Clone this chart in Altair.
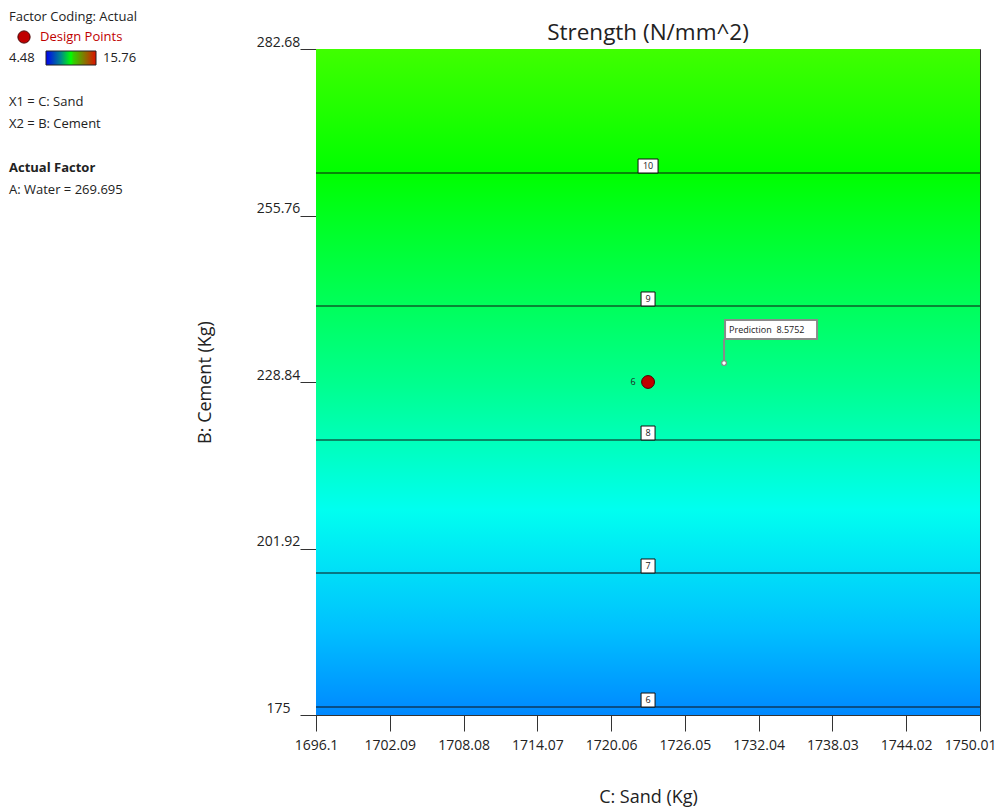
import altair as alt
import pandas as pd

# ---- data ----
sand_range = [1696.1, 1750.01]
cement_range = [175.0, 282.68]
x_ticks = [1696.1, 1702.09, 1708.08, 1714.07, 1720.06, 1726.05, 1732.04, 1738.03, 1744.02, 1750.01]
y_ticks = [175, 201.92, 228.84, 255.76, 282.68]
contour_levels = [6, 7, 8, 9, 10]
contour_cement = [176.29, 197.96, 219.46, 241.13, 262.63]
label_sand = 1723.06
design_sand = [1723.06]
design_cement = [228.84]
design_label = ["6"]
pred_sand = [1729.23]
pred_cement = [231.91]
pred_value = [8.5752]
color_min, color_max = 4.48, 15.76

FONT = "Open Sans"
TXT = "#222222"

xs = alt.Scale(domain=sand_range, nice=False, zero=False)
ys = alt.Scale(domain=cement_range, nice=False, zero=False)

bg_df = pd.DataFrame({"x": [sand_range[0]], "x2": [sand_range[1]],
                      "y": [cement_range[0]], "y2": [cement_range[1]]})
contour_df = pd.DataFrame({"level": contour_levels, "cement": contour_cement,
                           "x": [sand_range[0]] * 5, "x2": [sand_range[1]] * 5,
                           "lx": [label_sand] * 5})
design_df = pd.DataFrame({"sand": design_sand, "cement": design_cement, "label": design_label})
pred_df = pd.DataFrame({"sand": pred_sand, "cement": pred_cement,
                        "label": [f"Prediction\u00a0\u00a0{v}" for v in pred_value]})

surface_grad = alt.LinearGradient(
    gradient="linear", x1=0, y1=1, x2=0, y2=0,
    stops=[
        alt.GradientStop(offset=0.0, color="#0088ff"),
        alt.GradientStop(offset=0.128, color="#00c0ff"),
        alt.GradientStop(offset=0.308, color="#00fff0"),
        alt.GradientStop(offset=0.494, color="#00ff90"),
        alt.GradientStop(offset=0.713, color="#00ff30"),
        alt.GradientStop(offset=0.814, color="#00ff00"),
        alt.GradientStop(offset=1.0, color="#40ff00"),
    ])

last_x = f"datum.value == {sand_range[1]}"
x_axis = alt.Axis(values=x_ticks, labelExpr="datum.value", tickSize=16, labelPadding=7,
                  labelFlush=False, labelOverlap=False,
                  labelAlign={"condition": {"test": last_x, "value": "right"}, "value": "center"},
                  labelOffset={"condition": {"test": last_x, "value": 16}, "value": 0},
                  grid=False, title="C: Sand (Kg)", titleX=332, titleY=82,
                  titleBaseline="middle", titleFontSize=18, titleFontWeight="normal")
y_axis = alt.Axis(values=y_ticks, labelExpr="datum.value", tickSize=16, labelPadding=22,
                  labelFlush=False, labelOverlap=False,
                  labelAlign="center", labelBaseline="alphabetic", labelOffset=-3,
                  grid=False, title="B: Cement (Kg)", titleX=-111, titleY=333,
                  titleBaseline="middle", titleFontSize=18, titleFontWeight="normal")

background = alt.Chart(bg_df).mark_rect(color=surface_grad).encode(
    x=alt.X("x:Q", scale=xs, axis=x_axis), x2="x2:Q",
    y=alt.Y("y:Q", scale=ys, axis=y_axis), y2="y2:Q")

lines = alt.Chart(contour_df).mark_rule(color="#111111", strokeWidth=1.2).encode(
    x=alt.X("x:Q", scale=xs), x2="x2:Q", y=alt.Y("cement:Q", scale=ys))

box_narrow = alt.Chart(contour_df).transform_filter("datum.level < 10").mark_rect(
    fill="white", stroke="#111111", strokeWidth=1,
    xOffset=-7, x2Offset=7, yOffset=-14, y2Offset=0).encode(
    x=alt.X("lx:Q", scale=xs), x2="lx:Q", y=alt.Y("cement:Q", scale=ys), y2="cement:Q")
box_wide = alt.Chart(contour_df).transform_filter("datum.level >= 10").mark_rect(
    fill="white", stroke="#111111", strokeWidth=1,
    xOffset=-10, x2Offset=10, yOffset=-14, y2Offset=0).encode(
    x=alt.X("lx:Q", scale=xs), x2="lx:Q", y=alt.Y("cement:Q", scale=ys), y2="cement:Q")
box_text = alt.Chart(contour_df).mark_text(font=FONT, fontSize=9, color=TXT, dy=-7,
                                          baseline="middle").encode(
    x=alt.X("lx:Q", scale=xs), y=alt.Y("cement:Q", scale=ys), text="level:N")

design_pt = alt.Chart(design_df).mark_point(shape="circle", filled=True, size=165,
                                            fill="#c00000", stroke="#4a0000",
                                            strokeWidth=1, opacity=1).encode(
    x=alt.X("sand:Q", scale=xs), y=alt.Y("cement:Q", scale=ys))
design_txt = alt.Chart(design_df).mark_text(font=FONT, fontSize=9, color=TXT, dx=-15,
                                           baseline="middle").encode(
    x=alt.X("sand:Q", scale=xs), y=alt.Y("cement:Q", scale=ys), text="label:N")

pred_line = alt.Chart(pred_df).mark_rule(color="#8a8a8a", strokeWidth=2, y2Offset=-24).encode(
    x=alt.X("sand:Q", scale=xs), y=alt.Y("cement:Q", scale=ys), y2="cement:Q")
pred_pt = alt.Chart(pred_df).mark_point(shape="circle", size=22, filled=True, fill="white",
                                        stroke="#8a8a8a", strokeWidth=1.3, opacity=1).encode(
    x=alt.X("sand:Q", scale=xs), y=alt.Y("cement:Q", scale=ys))
pred_box = alt.Chart(pred_df).mark_rect(fill="white", stroke="#8a8a8a", strokeWidth=2,
                                        xOffset=1, x2Offset=93, yOffset=-43, y2Offset=-24).encode(
    x=alt.X("sand:Q", scale=xs), x2="sand:Q", y=alt.Y("cement:Q", scale=ys), y2="cement:Q")
pred_txt = alt.Chart(pred_df).mark_text(font=FONT, fontSize=9, color=TXT, align="left",
                                        baseline="middle", dx=5, dy=-33).encode(
    x=alt.X("sand:Q", scale=xs), y=alt.Y("cement:Q", scale=ys), text="label:N")

one = alt.Data(values=[{"k": 1}])


def txt(s, px, py, size=13, color=TXT, weight="normal", align="left"):
    return alt.Chart(one).mark_text(font=FONT, fontSize=size, color=color, fontWeight=weight,
                                    align=align, baseline="middle").encode(
        x=alt.value(px), y=alt.value(py), text=alt.value(s))


legend_grad = alt.LinearGradient(
    gradient="linear", x1=0, y1=0, x2=1, y2=0,
    stops=[
        alt.GradientStop(offset=0.0, color="#0000f0"),
        alt.GradientStop(offset=0.3, color="#008a8a"),
        alt.GradientStop(offset=0.5, color="#00ff00"),
        alt.GradientStop(offset=0.55, color="#30d000"),
        alt.GradientStop(offset=0.78, color="#8a7000"),
        alt.GradientStop(offset=1.0, color="#e01000"),
    ])

legend_layers = [
    txt("Factor Coding: Actual", -307, -32),
    alt.Chart(one).mark_point(shape="circle", filled=True, size=150, fill="#c00000",
                              stroke="#4a0000", strokeWidth=1, opacity=1).encode(
        x=alt.value(-292), y=alt.value(-12)),
    txt("Design Points", -276, -12, color="#c00000"),
    txt(f"{color_min}", -307, 9),
    alt.Chart(one).mark_rect(color=legend_grad, stroke="#222222", strokeWidth=1).encode(
        x=alt.value(-270), x2=alt.value(-220), y=alt.value(2), y2=alt.value(16)),
    txt(f"{color_max}", -213, 9),
    txt("X1 = C: Sand", -307, 53),
    txt("X2 = B: Cement", -307, 75),
    txt("Actual Factor", -307, 119, weight="bold"),
    txt("A: Water = 269.695", -307, 141),
    txt("Strength (N/mm^2)", 332, -16, size=22.5, align="center"),
]

chart = alt.layer(
    background, lines, box_narrow, box_wide, box_text, design_pt, design_txt,
    pred_line, pred_pt, pred_box, pred_txt, *legend_layers
).properties(
    width=664, height=666,
    autosize=alt.AutoSizeParams(type="none"),
    padding={"left": 308, "top": 41, "right": 16, "bottom": 92},
).configure_view(stroke="#333333", strokeWidth=1).configure_axis(
    domainColor="#333333", tickColor="#333333", labelColor=TXT, titleColor=TXT,
    labelFont=FONT, titleFont=FONT, labelFontSize=14, domainWidth=1, tickWidth=1
)

chart.save("out.html", embed_options={"renderer": "svg", "actions": False})
